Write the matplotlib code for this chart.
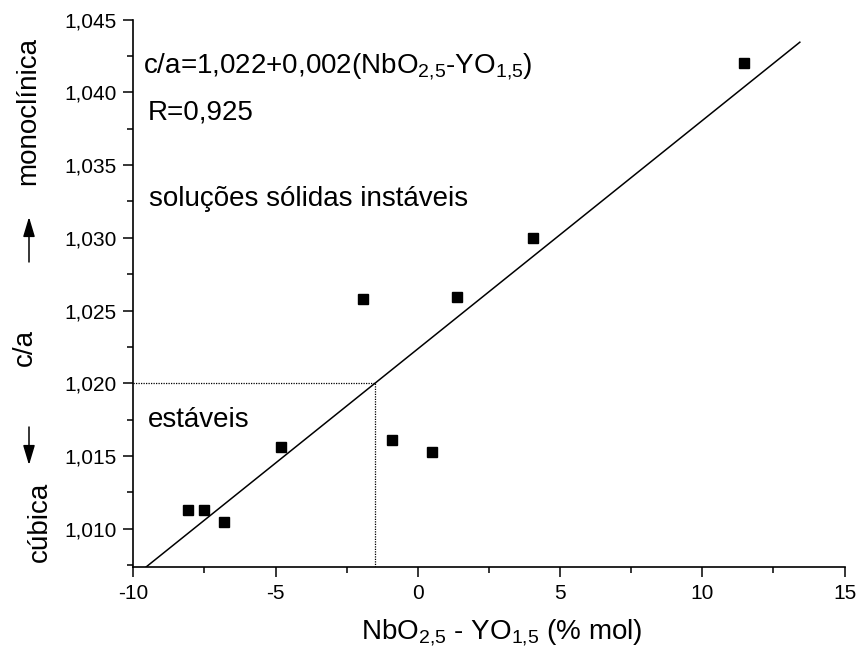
import numpy as np
import matplotlib
matplotlib.use("Agg")
import matplotlib.pyplot as plt
from matplotlib.ticker import MultipleLocator, FuncFormatter

plt.rcParams['font.family'] = ['Liberation Sans', 'DejaVu Sans']
plt.rcParams['mathtext.fontset'] = 'custom'
plt.rcParams['mathtext.rm'] = 'Liberation Sans'
plt.rcParams['mathtext.it'] = 'Liberation Sans:italic'
plt.rcParams['axes.unicode_minus'] = False

# NbO2,5 - YO1,5 excess (% mol) versus tetragonality c/a
excess_mol = [-8.09, -7.50, -6.80, -4.81, -1.92, -0.92, 0.49, 1.37, 4.05, 11.47]
ca_ratio = [1.0113, 1.0113, 1.0105, 1.0156, 1.0258, 1.0161, 1.0153, 1.0259, 1.0300, 1.0420]

# limit between stable and unstable solid solutions
limit_x = -1.5
limit_ca = 1.020

x_ticks = [-10, -5, 0, 5, 10, 15]
y_ticks = [1.010, 1.015, 1.020, 1.025, 1.030, 1.035, 1.040, 1.045]

fig = plt.figure(figsize=(8.57, 6.62), dpi=100)
ax = fig.add_axes([133.3 / 857, 1 - 566.7 / 662, (844.5 - 133.3) / 857, (566.7 - 19.5) / 662])

# linear regression of c/a on composition
slope, intercept = np.polyfit(excess_mol, ca_ratio, 1)
fit_x = np.array([-10.0, 13.43])
ax.plot(fit_x, intercept + slope * fit_x, color='black', lw=1.1, zorder=2)

ax.plot(excess_mol, ca_ratio, linestyle='none', marker='s', markersize=7.7,
        color='black', zorder=3)

# dotted guide lines to the stability limit
ax.plot([-10, limit_x], [limit_ca, limit_ca], color='black', lw=0.9,
        linestyle=(0, (1, 1)), zorder=1)
ax.plot([limit_x, limit_x], [1.0074, limit_ca], color='black', lw=0.9,
        linestyle=(0, (1, 1)), zorder=1)

ax.set_xlim(-10, 15)
ax.set_ylim(1.0074, 1.045)

for side in ('top', 'right'):
    ax.spines[side].set_visible(False)
for side in ('left', 'bottom'):
    ax.spines[side].set_linewidth(1.2)

ax.set_xticks(x_ticks)
ax.set_yticks(y_ticks)
ax.xaxis.set_minor_locator(MultipleLocator(2.5))
ax.yaxis.set_minor_locator(MultipleLocator(0.0025))
ax.yaxis.set_major_formatter(FuncFormatter(lambda v, p: f"{v:.3f}".replace('.', ',')))
ax.xaxis.set_major_formatter(FuncFormatter(lambda v, p: f"{v:g}"))
ax.tick_params(which='major', direction='out', length=7.2, width=1.1,
               labelsize=15, pad=5)
ax.tick_params(which='minor', direction='out', length=4, width=1.1)

ax.set_xlabel(r'NbO$\mathregular{_{2{,}5}}$ - YO$\mathregular{_{1{,}5}}$ (% mol)',
              fontsize=20)
ax.xaxis.set_label_coords(0.518, -0.092)

ax.text(-9.66, 1.0413,
        r'c/a=1,022+0,002(NbO$\mathregular{_{2{,}5}}$-YO$\mathregular{_{1{,}5}}$)',
        fontsize=20, ha='left', va='baseline')
ax.text(-9.48, 1.0381, 'R=0,925', fontsize=20, ha='left', va='baseline')
ax.text(-9.44, 1.0322, 'soluções sólidas instáveis', fontsize=20,
        ha='left', va='baseline')
ax.text(-9.48, 1.0170, 'estáveis', fontsize=20, ha='left', va='baseline')

# vertical side labels with direction arrows
def side_label(x_px, y_px, s):
    fig.text(x_px / 857, 1 - y_px / 662, s, rotation=90, rotation_mode='anchor',
             ha='center', va='baseline', fontsize=20)

side_label(35, 111, 'monoclínica')
side_label(32, 348, 'c/a')
side_label(47, 522, 'cúbica')

arrow_style = dict(arrowstyle='-|>,head_length=1.0,head_width=0.3', color='black',
                   lw=1.1, mutation_scale=12, shrinkA=0, shrinkB=0)
ax.annotate('', xy=(29 / 857, 1 - 217 / 662), xytext=(29 / 857, 1 - 262 / 662),
            xycoords='figure fraction', textcoords='figure fraction',
            arrowprops=arrow_style, annotation_clip=False)
ax.annotate('', xy=(29 / 857, 1 - 465 / 662), xytext=(29 / 857, 1 - 427 / 662),
            xycoords='figure fraction', textcoords='figure fraction',
            arrowprops=arrow_style, annotation_clip=False)

fig.savefig('out.png', dpi=100)
